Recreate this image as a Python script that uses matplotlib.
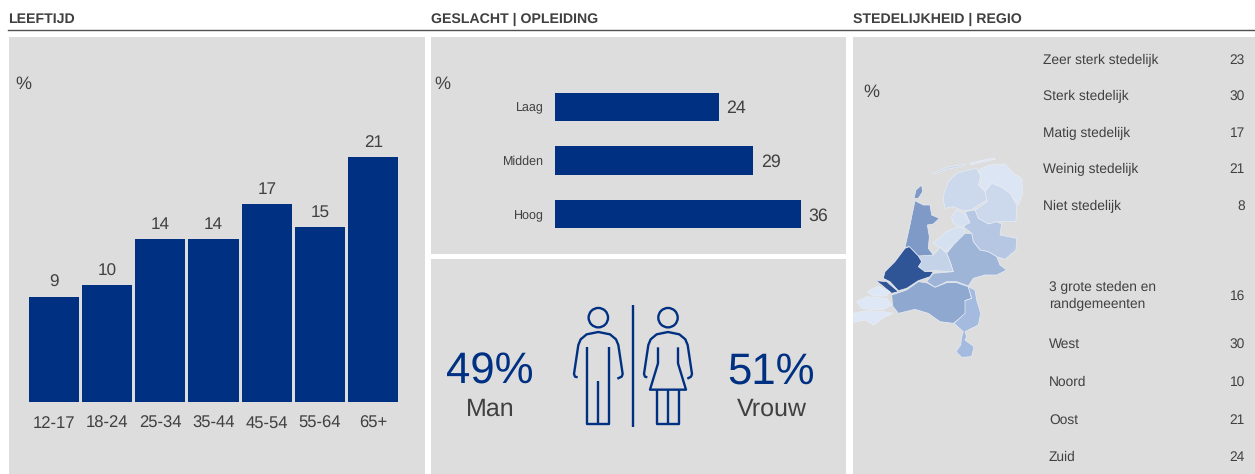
import matplotlib
matplotlib.use("Agg")
import matplotlib.pyplot as plt
from matplotlib.patches import Rectangle, Polygon, Circle

plt.rcParams['font.family'] = ['Liberation Sans', 'DejaVu Sans']
plt.rcParams['text.hinting'] = 'no_hinting'

# Data
leeftijd = ["12-17", "18-24", "25-34", "35-44", "45-54", "55-64", "65+"]
leeftijd_pct = [9, 10, 14, 14, 17, 15, 21]
opleiding = ["Laag", "Midden", "Hoog"]
opleiding_pct = [24, 29, 36]
stedelijk = ["Zeer sterk stedelijk", "Sterk stedelijk", "Matig stedelijk", "Weinig stedelijk", "Niet stedelijk"]
stedelijk_pct = [23, 30, 17, 21, 8]
regio = ["3 grote steden en\nrandgemeenten", "West", "Noord", "Oost", "Zuid"]
regio_pct = [16, 30, 10, 21, 24]
man_pct = 49
vrouw_pct = 51

BLAUW = "#003082"
GRIJS = "#dddddd"
TEKST = "#404040"
W, H = 1255, 474

fig = plt.figure(figsize=(W / 100, H / 100), dpi=100)

# achtergrond in pixels
bg = fig.add_axes([0, 0, 1, 1])
bg.set_xlim(0, W)
bg.set_ylim(H, 0)
bg.axis("off")

for x0, y0, x1, y1 in [(9, 37, 425, 474), (431, 37, 846, 254), (431, 259, 846, 474), (853, 37, 1255, 474)]:
    bg.add_patch(Rectangle((x0, y0), x1 - x0, y1 - y0, fc=GRIJS, ec="none"))
bg.plot([8, 1255], [29.5, 29.5], color="#505050", lw=1.0)

for x, t in [(8, "LEEFTIJD"), (431, "GESLACHT | OPLEIDING"), (853, "STEDELIJKHEID | REGIO")]:
    bg.text(x, 19, t, fontsize=10.2, fontweight="bold", color=TEKST, va="center")
for x in [15, 434, 863]:
    bg.text(x, 84 if x < 800 else 92, "%", fontsize=13, color=TEKST, va="center")


def pixel_axes(x0, y0, x1, y1):
    ax = fig.add_axes([x0 / W, 1 - y1 / H, (x1 - x0) / W, (y1 - y0) / H])
    ax.patch.set_alpha(0)
    for s in ax.spines.values():
        s.set_visible(False)
    return ax


# Leeftijd
ax = pixel_axes(27, 132, 400, 402)
bars = ax.bar(range(len(leeftijd)), leeftijd_pct, width=0.94, color=BLAUW)
ax.set_xlim(-0.5, len(leeftijd) - 0.5)
ax.set_ylim(0, 270 / 11.67)
ax.set_yticks([])
ax.set_xticks(range(len(leeftijd)), leeftijd, fontsize=12, color=TEKST)
ax.tick_params(axis="x", length=0, pad=10)
ax.bar_label(bars, padding=4.5, fontsize=12.3, color=TEKST)

# Opleiding
ax = pixel_axes(555, 80, 840, 241)
bars = ax.barh(range(len(opleiding)), opleiding_pct, height=0.525, color=BLAUW)
ax.set_xlim(0, 285 / 6.83)
ax.set_ylim(2.5, -0.5)
ax.set_xticks([])
ax.set_yticks(range(len(opleiding)), opleiding, fontsize=9, color=TEKST)
ax.tick_params(axis="y", length=0, pad=8)
for lab in ax.bar_label(bars, padding=5.5, fontsize=12.8, color=TEKST):
    lab.xyann = (5.5, -1.2)

# Geslacht
bg.text(490, 372, f"{man_pct}%", fontsize=31.5, color=BLAUW, ha="center", va="center")
bg.text(490, 409, "Man", fontsize=18, color=TEKST, ha="center", va="center")
bg.text(771, 372, f"{vrouw_pct}%", fontsize=31.5, color=BLAUW, ha="center", va="center")
bg.text(772, 409, "Vrouw", fontsize=18, color=TEKST, ha="center", va="center")


def icoon(lijn):
    xs = [430 + p[0] / 3 for p in lijn]
    ys = [280 + p[1] / 3 for p in lijn]
    bg.plot(xs, ys, color=BLAUW, lw=1.7, solid_capstyle="butt", solid_joinstyle="round")


icoon([(608, 76), (608, 440)])
# man
bg.add_patch(Circle((430 + 505 / 3, 280 + 113 / 3), 9.7, fc="none", ec=BLAUW, lw=1.7))
icoon([(443, 292), (435, 290), (432, 282), (445, 195), (452, 178), (470, 163), (505, 156), (540, 163), (558, 178), (565, 195), (578, 282), (575, 290), (562, 296)])
icoon([(472, 202), (472, 431), (538, 431), (538, 202)])
icoon([(505, 302), (505, 431)])
# vrouw
bg.add_patch(Circle((430 + 714 / 3, 280 + 113 / 3), 9.7, fc="none", ec=BLAUW, lw=1.7))
icoon([(652, 292), (645, 290), (642, 282), (655, 195), (662, 178), (680, 163), (714, 156), (748, 163), (766, 178), (773, 195), (786, 282), (783, 290), (772, 296)])
icoon([(684, 202), (684, 250), (660, 329), (768, 329), (744, 250), (744, 202)])
icoon([(681, 329), (681, 431), (747, 431), (747, 329)])
icoon([(714, 329), (714, 431)])

# Stedelijkheid en regio
for lab, v, y in zip(stedelijk, stedelijk_pct, [60, 96, 133, 169, 206]):
    bg.text(1043, y, lab, fontsize=9.9, color=TEKST, va="center")
    bg.text(1245, y, str(v), fontsize=9.9, color=TEKST, va="center", ha="right")
for lab, v, y in zip(regio, regio_pct, [296, 344, 382, 420, 457]):
    bg.text(1049, y, lab, fontsize=9.9, color=TEKST, va="center", linespacing=1.45)
    bg.text(1245, y, str(v), fontsize=9.9, color=TEKST, va="center", ha="right")

# Kaart, omtrekken in coordinaten van de uitsnede
provincies = [
    ("#ccd9ec", [(282, 130), (295, 95), (320, 70), (355, 60), (380, 55), (392, 80), (385, 105), (405, 125), (412, 150), (385, 165), (365, 180), (340, 182), (310, 170), (285, 175), (280, 150)]),
    ("#dce5f3", [(385, 60), (420, 45), (465, 42), (490, 70), (515, 85), (518, 130), (505, 165), (480, 130), (455, 112), (425, 98), (405, 122), (390, 105), (395, 80)]),
    ("#ccd9ec", [(405, 125), (425, 100), (455, 112), (480, 130), (500, 165), (498, 215), (440, 215), (415, 222), (385, 205), (375, 180), (412, 155)]),
    ("#b5c7e2", [(345, 185), (375, 180), (385, 205), (415, 222), (440, 215), (455, 222), (450, 255), (500, 265), (498, 300), (465, 328), (440, 320), (415, 305), (390, 300), (370, 275), (365, 250), (340, 230), (358, 215)]),
    ("#d5e0f0", [(305, 200), (320, 180), (345, 190), (360, 218), (340, 228), (320, 228), (308, 215)]),
    ("#d5e0f0", [(248, 280), (290, 245), (320, 232), (340, 232), (345, 250), (310, 285), (290, 305), (265, 290)]),
    ("#9fb5d8", [(345, 250), (365, 250), (370, 275), (390, 300), (415, 305), (440, 320), (450, 345), (470, 360), (440, 375), (405, 375), (370, 385), (355, 408), (320, 395), (290, 395), (255, 412), (230, 395), (250, 370), (310, 365), (300, 335), (290, 310), (310, 285)]),
    ("#c5d3e8", [(205, 320), (235, 298), (250, 315), (270, 292), (290, 310), (300, 335), (310, 365), (250, 362), (225, 365), (205, 350), (215, 335)]),
    ("#7f9ac6", [(195, 152), (220, 165), (240, 165), (245, 195), (268, 205), (250, 222), (232, 225), (238, 260), (235, 295), (250, 315), (205, 318), (178, 290), (165, 292), (180, 225)]),
    ("#7f9ac6", [(192, 145), (198, 120), (215, 105), (218, 125), (205, 145)]),
    ("#2f5597", [(165, 295), (178, 290), (205, 318), (215, 335), (205, 350), (225, 365), (250, 365), (240, 380), (205, 392), (170, 415), (145, 422), (120, 395), (100, 385), (105, 365), (135, 335)]),
    ("#2f5597", [(78, 392), (110, 395), (145, 425), (125, 430), (95, 405)]),
    ("#8fa8d0", [(125, 435), (170, 420), (205, 395), (230, 398), (255, 412), (290, 398), (320, 398), (355, 410), (365, 445), (345, 452), (350, 490), (310, 520), (270, 515), (235, 490), (195, 478), (145, 490), (128, 468)]),
    ("#a4bade", [(355, 410), (375, 420), (380, 450), (392, 490), (385, 525), (345, 545), (350, 560), (345, 570), (372, 590), (365, 620), (335, 622), (318, 605), (332, 585), (335, 560), (340, 545), (312, 520), (345, 490), (345, 452), (365, 445)]),
    ("#dde7f5", [(52, 425), (85, 408), (120, 425), (110, 438), (70, 438)]),
    ("#dde7f5", [(20, 455), (50, 440), (110, 445), (125, 465), (100, 478), (60, 478), (35, 475)]),
    ("#dde7f5", [(10, 490), (50, 482), (100, 485), (130, 490), (105, 500), (72, 525), (45, 510), (12, 517)]),
    ("#c9d6ea", [(250, 68), (290, 52), (345, 42), (345, 47), (290, 58), (252, 72)]),
    ("#dde7f5", [(360, 40), (400, 30), (435, 24), (435, 28), (400, 35), (362, 45)]),
]
for kleur, punten in provincies:
    bg.add_patch(Polygon([(850 + x / 3, 150 + y / 3) for x, y in punten], closed=True, fc=kleur, ec="#e8edf5", lw=0.5))

fig.savefig("out.png", dpi=100)
